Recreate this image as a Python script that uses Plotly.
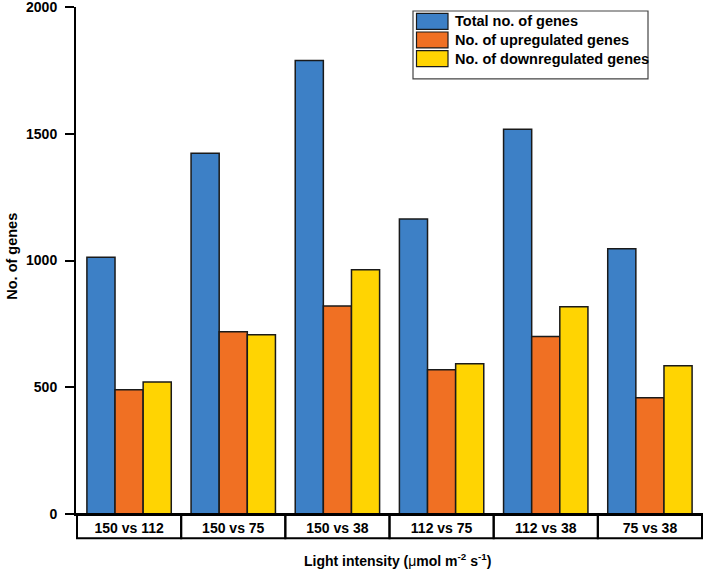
import plotly.graph_objects as go

categories = ["150 vs 112", "150 vs 75", "150 vs 38", "112 vs 75", "112 vs 38", "75 vs 38"]
total_genes = [1013, 1423, 1789, 1164, 1518, 1046]
up_genes = [490, 719, 821, 569, 700, 459]
down_genes = [521, 707, 964, 593, 818, 585]
series_names = ["Total no. of genes", "No. of upregulated genes", "No. of downregulated genes"]
colors = ["#3D80C6", "#F07023", "#FFD402"]
y_ticks = [0, 500, 1000, 1500, 2000]

FONT = "Arial, Liberation Sans, sans-serif"
W, H = 709, 571
L, R, T, B = 76, 6, 7, 56.5

fig = go.Figure()
for name, vals, col in zip(series_names, [total_genes, up_genes, down_genes], colors):
    fig.add_trace(go.Bar(
        x=categories, y=vals, name=name,
        marker=dict(color=col, line=dict(color="#1a1a1a", width=1.5)),
        showlegend=False,
    ))

shapes = []
for i in range(len(categories)):
    shapes.append(dict(type="rect", xref="x", yref="paper",
                       x0=i - 0.5, x1=i + 0.5, y0=-0.048, y1=0,
                       line=dict(color="black", width=2), fillcolor="rgba(0,0,0,0)", layer="above"))

plot_h = H - T - B
def py(ypx):
    return (H - B - ypx) / plot_h
def px(xpx):
    return (xpx - L) / (W - L - R)

annotations = []
shapes.append(dict(type="rect", xref="paper", yref="paper",
                   x0=px(413), x1=px(648), y0=py(79), y1=py(11),
                   line=dict(color="#444", width=1.2), fillcolor="white", layer="above"))
row_centers = [21.3, 40, 58.7]
for name, col, yc in zip(series_names, colors, row_centers):
    shapes.append(dict(type="rect", xref="paper", yref="paper",
                       x0=px(416.5), x1=px(448), y0=py(yc + 8), y1=py(yc - 8),
                       line=dict(color="#1a1a1a", width=1.2), fillcolor=col, layer="above"))
    annotations.append(dict(x=px(453), y=py(yc), xref="paper", yref="paper",
                            text="<b>%s</b>" % name, showarrow=False, xanchor="left", yanchor="middle",
                            font=dict(family=FONT, size=14.5, color="black")))

annotations.append(dict(x=px(12), y=py(257), xref="paper", yref="paper", text="<b>No. of genes</b>",
                        textangle=-90, showarrow=False, xanchor="center", yanchor="middle",
                        font=dict(family=FONT, size=14.5, color="black")))
annotations.append(dict(x=px(397), y=py(561), xref="paper", yref="paper",
                        text="<b>Light intensity (</b>μ<b>mol m<sup>-2</sup> s<sup>-1</sup>)</b>",
                        showarrow=False, xanchor="center", yanchor="middle",
                        font=dict(family=FONT, size=14, color="black")))

fig.update_layout(
    width=W, height=H,
    margin=dict(l=L, r=R, t=T, b=B, pad=0, autoexpand=False),
    paper_bgcolor="white", plot_bgcolor="white",
    barmode="group", bargap=0.19, bargroupgap=0,
    shapes=shapes, annotations=annotations,
    font=dict(family=FONT, size=14, color="black"),
)
fig.update_xaxes(
    showline=True, linecolor="black", linewidth=2, showgrid=False, zeroline=False,
    ticks="", tickfont=dict(family=FONT, size=14, color="black"), automargin=False,
    tickprefix="<b>", ticksuffix="</b>", ticklabelstandoff=0,
)
fig.update_yaxes(
    range=[0, 2000], tickvals=y_ticks, ticktext=["<b>%d</b>" % v for v in y_ticks],
    showline=True, linecolor="black", linewidth=2, showgrid=False, zeroline=False, automargin=False,
    ticks="outside", ticklen=9, tickwidth=2, tickcolor="black", ticklabeloverflow="allow",
    tickfont=dict(family=FONT, size=14, color="black"), ticklabelstandoff=5,
)

fig.write_html("out.html", config={"displayModeBar": False},
               post_script="document.body.style.margin='0';document.body.style.overflow='hidden';")
